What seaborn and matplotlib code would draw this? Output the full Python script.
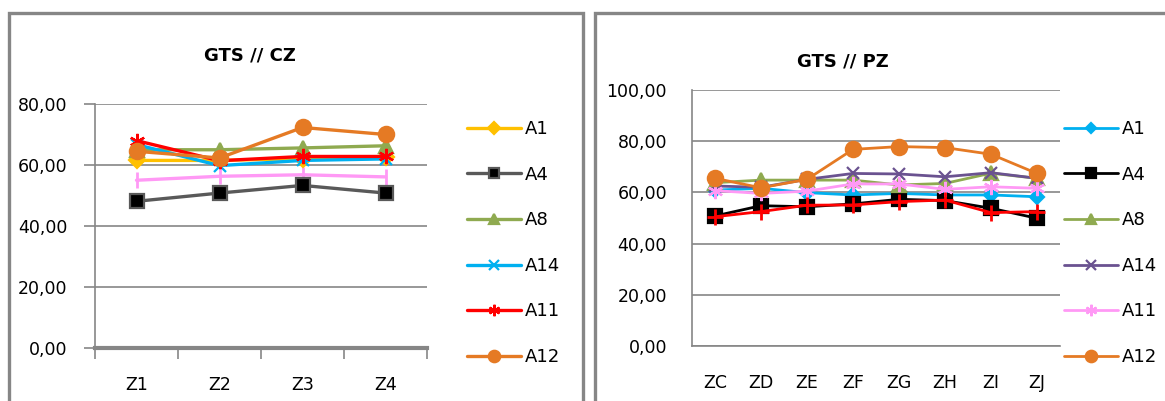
import numpy as np
import pandas as pd
import matplotlib
matplotlib.use('Agg')
import matplotlib.pyplot as plt
from matplotlib.patches import Rectangle
from matplotlib.ticker import FixedLocator, FuncFormatter
import seaborn as sns

# data
cz_zones = ['Z1', 'Z2', 'Z3', 'Z4']
cz_a1 = [61.5, 61.5, 62.1, 62.6]
cz_a4 = [48.1, 50.8, 53.3, 50.8]
cz_a8 = [65.0, 65.0, 65.6, 66.3]
cz_a14 = [66.7, 59.8, 61.5, 62.0]
cz_a11 = [68.0, 61.4, 62.8, 62.8]
cz_a12 = [64.5, 62.3, 72.3, 70.0]
cz_extra = [55.0, 56.3, 56.8, 56.1]

pz_zones = ['ZC', 'ZD', 'ZE', 'ZF', 'ZG', 'ZH', 'ZI', 'ZJ']
pz_a1 = [60.9, 61.6, 59.9, 59.0, 59.6, 59.0, 59.0, 58.3]
pz_a4 = [50.8, 54.8, 54.4, 55.5, 57.3, 56.8, 53.8, 49.9]
pz_a8 = [63.8, 64.8, 64.8, 64.8, 62.9, 63.5, 67.5, 65.5]
pz_a14 = [62.5, 62.0, 65.1, 67.4, 67.2, 66.1, 67.7, 65.5]
pz_a11 = [60.7, 59.6, 60.5, 63.3, 63.3, 61.2, 62.2, 61.6]
pz_a12 = [65.5, 61.8, 65.1, 76.8, 77.9, 77.5, 74.9, 67.4]
pz_extra = [50.5, 52.5, 55.0, 55.1, 56.4, 57.0, 52.1, 52.5]

sns.set_style('white')
plt.rcParams['font.family'] = ['DejaVu Sans']
plt.rcParams['text.color'] = 'black'
plt.rcParams['xtick.color'] = 'black'
plt.rcParams['ytick.color'] = 'black'

W, H = 1165, 401
fig = plt.figure(figsize=(W / 100, H / 100), dpi=100)
fig.patch.set_facecolor('white')

grey = '#868686'

def fx(px):
    return px / W

def fy(py):
    return 1 - py / H

# panel frames
fig.patches.append(Rectangle((fx(9), fy(420)), fx(583 - 9), (420 - 13) / H,
                             transform=fig.transFigure, fill=False,
                             edgecolor=grey, linewidth=2.4))
fig.patches.append(Rectangle((fx(595), fy(420)), fx(1200 - 595), (420 - 13) / H,
                             transform=fig.transFigure, fill=False,
                             edgecolor=grey, linewidth=2.4))

comma_fmt = FuncFormatter(lambda v, p: f'{v:.2f}'.replace('.', ','))


def draw(ax, zones, series, extra, extra_style, ymax, lw):
    for label, vals, color, mk, ms, mfc, mec, zo in series:
        sns.lineplot(x=zones, y=vals, ax=ax, color=color, marker=mk,
                     markersize=ms, markerfacecolor=mfc, markeredgecolor=mec,
                     markeredgewidth=1.6, linewidth=lw, label=label, sort=False,
                     zorder=zo)
    color, mk, ms, zo = extra_style
    sns.lineplot(x=zones, y=extra, ax=ax, color=color, marker=mk,
                 markersize=ms, markeredgecolor=color, markeredgewidth=2,
                 linewidth=lw, label='_nolegend_', sort=False, zorder=zo)
    n = len(zones)
    ax.set_xlim(-0.5, n - 0.5)
    ax.set_ylim(0, ymax)
    ax.set_yticks(np.arange(0, ymax + 1, 20))
    ax.yaxis.set_major_formatter(comma_fmt)
    ax.grid(axis='y', color=grey, linewidth=1.2)
    ax.set_axisbelow(True)
    for s in ['top', 'right']:
        ax.spines[s].set_visible(False)
    ax.spines['left'].set_color(grey)
    ax.spines['left'].set_linewidth(1.2)
    ax.set_xlabel('')
    ax.set_ylabel('')


def add_legend(ax, x, y):
    h, l = ax.get_legend_handles_labels()
    fig.legend(h, l, loc='upper left', bbox_to_anchor=(fx(x), fy(y)),
               frameon=False, fontsize=13, handlelength=3.0, handletextpad=0.2,
               labelspacing=1.53, borderpad=0, borderaxespad=0,
               markerscale=0.75)


# left chart: GTS // CZ
ax1 = fig.add_axes([fx(95), fy(348), fx(427 - 95), (348 - 104) / H])
left_series = [
    ('A1', cz_a1, '#FFC000', 'D', 8, '#FFC000', '#FFC000', 3),
    ('A4', cz_a4, '#595959', 's', 10, 'black', '#595959', 3),
    ('A8', cz_a8, '#8FAA50', '^', 10, '#8FAA50', '#8FAA50', 3),
    ('A14', cz_a14, '#00B0F0', 'x', 9, '#00B0F0', '#00B0F0', 3),
    ('A11', cz_a11, '#FF0000', (6, 2, 0), 11, '#FF0000', '#FF0000', 4),
    ('A12', cz_a12, '#E57A24', 'o', 11, '#E57A24', '#E57A24', 5),
]
draw(ax1, cz_zones, left_series, cz_extra, ('#FF99F5', '|', 11, 2), 80, 2.4)
ax1.spines['bottom'].set_color(grey)
ax1.spines['bottom'].set_linewidth(3)
ax1.xaxis.set_minor_locator(FixedLocator(np.arange(-0.5, 4, 1)))
ax1.tick_params(axis='x', which='minor', length=8, width=1.2, color=grey,
                direction='out', bottom=True)
ax1.tick_params(axis='x', which='major', length=0, pad=20, labelsize=12.5)
ax1.tick_params(axis='y', length=8, width=1.2, color=grey, direction='out',
                left=True, pad=12, labelsize=12.5, labelcolor='black')
ax1.legend_.remove()
fig.text(fx(250), fy(55), 'GTS // CZ', ha='center', va='center',
         fontsize=13, fontweight='bold')
add_legend(ax1, 467, 120)

# right chart: GTS // PZ
ax2 = fig.add_axes([fx(692), fy(346), fx(1060 - 692), (346 - 90) / H])
right_series = [
    ('A1', pz_a1, '#00B0F0', 'D', 7, '#00B0F0', '#00B0F0', 3),
    ('A4', pz_a4, 'black', 's', 10, 'black', 'black', 3),
    ('A8', pz_a8, '#8FAA50', '^', 10, '#8FAA50', '#8FAA50', 3),
    ('A14', pz_a14, '#6A5290', 'x', 9, '#6A5290', '#6A5290', 3),
    ('A11', pz_a11, '#FF99F5', (6, 2, 0), 11, '#FF99F5', '#FF99F5', 3),
    ('A12', pz_a12, '#E57A24', 'o', 11, '#E57A24', '#E57A24', 5),
]
draw(ax2, pz_zones, right_series, pz_extra, ('#FF0000', '+', 12, 4), 100, 2.0)
ax2.spines['bottom'].set_color(grey)
ax2.spines['bottom'].set_linewidth(1.2)
ax2.tick_params(axis='x', length=0, pad=20, labelsize=12.5)
ax2.tick_params(axis='y', length=0, pad=18, labelsize=12.5)
ax2.legend_.remove()
fig.text(fx(843), fy(62), 'GTS // PZ', ha='center', va='center',
         fontsize=13, fontweight='bold')
add_legend(ax2, 1064, 120)

fig.savefig('out.png', dpi=100, facecolor='white')
